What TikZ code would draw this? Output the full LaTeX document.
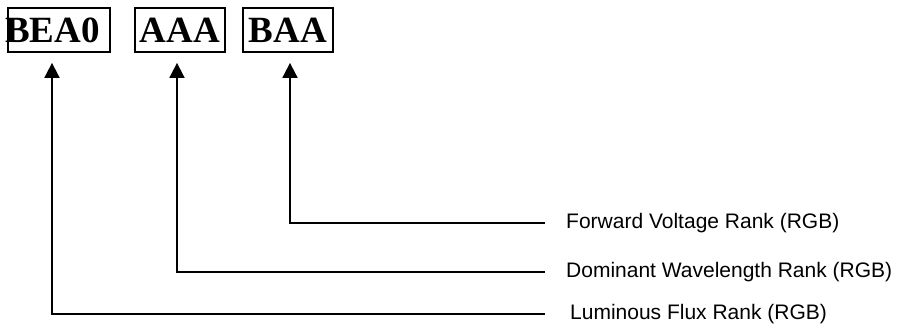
\documentclass[tikz,border=0pt]{standalone}
\usepackage{fontspec}
\setmainfont{Liberation Serif}
\newfontfamily\labelfont{Liberation Sans}
\usepackage{tikz}
\usetikzlibrary{arrows.meta}

\begin{document}
\begin{tikzpicture}[x=1pt,y=-1pt,
  rank/.style={draw,line width=1.8pt,minimum height=44pt,inner sep=0pt,font=\fontsize{37}{40}\selectfont\bfseries},
  desc/.style={anchor=west,inner sep=0pt,font=\labelfont\fontsize{21}{24}\selectfont},
  lead/.style={line width=1.8pt,-{Triangle[length=15pt,width=15pt]},shorten >=10pt}]
\useasboundingbox (0,0) rectangle (903,329);
\node[rank,minimum width=102pt] (bea0) at (59,30) {\kern-13pt BEA0};
\node[rank,minimum width=90pt] (aaa) at (180,30) {AAA};
\node[rank,minimum width=90pt] (baa) at (288,30) {BAA};
\node[desc] (fv) at (566,223) {Forward Voltage Rank (RGB)};
\node[desc] (dw) at (566,272) {Dominant Wavelength Rank (RGB)};
\node[desc] (lf) at (570,314) {Luminous Flux Rank (RGB)};
\draw[lead] ([xshift=-21pt]fv.west) -| ([xshift=2pt]baa.south);
\draw[lead] ([xshift=-21pt]dw.west) -| ([xshift=-3pt]aaa.south);
\draw[lead] ([xshift=-25pt]lf.west) -| ([xshift=-7pt]bea0.south);
\end{tikzpicture}
\end{document}
